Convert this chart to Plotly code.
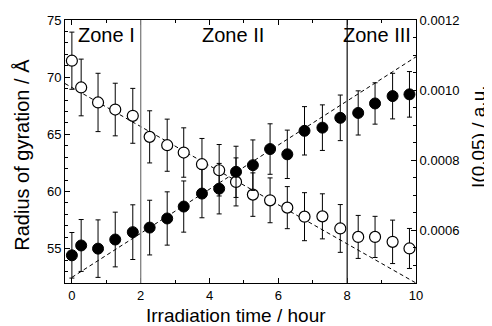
import plotly.graph_objects as go
import numpy as np

# ---- data ----
time_h = [0, 0.27, 0.76, 1.26, 1.77, 2.26, 2.77, 3.25, 3.78, 4.28, 4.77,
          5.26, 5.76, 6.26, 6.76, 7.28, 7.8, 8.32, 8.81, 9.32, 9.81]

rg = [71.44, 69.1, 67.79, 67.17, 66.62, 64.78, 64.05, 63.41, 62.39, 61.86, 60.84,
      59.73, 59.23, 58.59, 57.8, 57.83, 56.77, 56.03, 56.03, 55.6, 55.02]
rg_err = [2.5, 2.48, 2.55, 2.3, 2.4, 2.28, 2.28, 2.16, 2.25, 2.25, 2.1,
          1.9, 1.96, 1.84, 2.1, 1.97, 2.09, 1.88, 1.8, 1.9, 1.75]

i005 = [0.000529, 0.000557, 0.000548, 0.000574, 0.000595, 0.000608, 0.000634,
        0.000668, 0.000705, 0.000719, 0.000767, 0.000786, 0.000832, 0.000817,
        0.000884, 0.000893, 0.000921, 0.000935, 0.000962, 0.000983, 0.000988]
i005_err = [6.5e-5, 7.4e-5, 8.2e-5, 7.8e-5, 7.8e-5, 7.8e-5, 7.6e-5, 7.3e-5,
            6.9e-5, 7.2e-5, 7.3e-5, 7.2e-5, 7.2e-5, 6.9e-5, 6.9e-5, 6.5e-5,
            6.5e-5, 6.3e-5, 5.9e-5, 6.5e-5, 6.5e-5]

# linear guide lines: (intercept, slope, x_start, x_end)
rg_fit = (69.1, -1.71, -0.2, 10.0)
i_fit = (0.000466, 6.29e-5, 0.0, 10.0)

zone_bounds = [2, 8]
zone_labels = ["Zone I", "Zone II", "Zone III"]
zone_label_x = [0.12, 4.69, 9.92]

x_title = "Irradiation time / hour"
y_title = "Radius of gyration / Å"
y2_title = "I(0.05) / a.u."

FONT = "Liberation Sans, Arial, sans-serif"

fig = go.Figure()

# guide lines
fx = np.array([rg_fit[2], rg_fit[3]])
fig.add_trace(go.Scatter(x=fx, y=rg_fit[0] + rg_fit[1] * fx, mode="lines",
                         line=dict(color="black", width=1, dash="4px,3px"),
                         hoverinfo="skip"))
fx2 = np.array([i_fit[2], i_fit[3]])
fig.add_trace(go.Scatter(x=fx2, y=i_fit[0] + i_fit[1] * fx2, mode="lines", yaxis="y2",
                         line=dict(color="black", width=1, dash="4px,3px"),
                         hoverinfo="skip"))

# open circles: radius of gyration
fig.add_trace(go.Scatter(
    x=time_h, y=rg, mode="markers",
    marker=dict(symbol="circle", size=11, color="white",
                line=dict(color="black", width=1.2)),
    error_y=dict(type="data", array=rg_err, color="black", thickness=1, width=2.5),
))

# filled circles: I(0.05)
fig.add_trace(go.Scatter(
    x=time_h, y=i005, mode="markers", yaxis="y2",
    marker=dict(symbol="circle", size=11, color="black",
                line=dict(color="black", width=1)),
    error_y=dict(type="data", array=i005_err, color="black", thickness=1, width=2.5),
))

# zone boundaries
for xb, col in zip(zone_bounds, ["#808080", "#202020"]):
    fig.add_shape(type="line", xref="x", yref="paper", x0=xb, x1=xb, y0=0, y1=1,
                  line=dict(color=col, width=1.3))

anchors = ["left", "center", "right"]
for lab, xl, an in zip(zone_labels, zone_label_x, anchors):
    fig.add_annotation(text=lab, x=xl, xref="x", y=0.943, yref="paper",
                       xanchor=an, yanchor="middle", showarrow=False,
                       font=dict(family=FONT, size=20, color="black"))

# axis titles (placed as annotations for exact positioning)
fig.add_annotation(text=x_title, x=0.487, y=-0.122, xref="paper", yref="paper",
                   xanchor="center", yanchor="middle", showarrow=False,
                   font=dict(family=FONT, size=19, color="black"))
fig.add_annotation(text=y_title, x=-0.123, y=0.487, xref="paper", yref="paper",
                   xanchor="center", yanchor="middle", showarrow=False, textangle=-90,
                   font=dict(family=FONT, size=20, color="black"))
fig.add_annotation(text=y2_title, x=1.18, y=0.556, xref="paper", yref="paper",
                   xanchor="center", yanchor="middle", showarrow=False, textangle=-90,
                   font=dict(family=FONT, size=19, color="black"))

fig.update_layout(
    width=484, height=318,
    margin=dict(l=57, r=76, t=12, b=43),
    plot_bgcolor="white", paper_bgcolor="white",
    showlegend=False,
    font=dict(family=FONT, size=13, color="black"),
    xaxis=dict(range=[-0.2, 10], dtick=2, tick0=0, ticks="inside", ticklen=5,
               tickcolor="black", showline=True, linecolor="black", linewidth=1,
               mirror="ticks", showgrid=False, zeroline=False, automargin=False,
               minor=dict(dtick=1, ticks="inside", ticklen=3, tickcolor="black"),
               tickfont=dict(size=13)),
    yaxis=dict(range=[52, 75], dtick=5, tick0=0, ticks="inside", ticklen=5,
               tickcolor="black", showline=True, linecolor="black", linewidth=1,
               showgrid=False, zeroline=False, automargin=False,
               minor=dict(dtick=1, ticks="inside", ticklen=3, tickcolor="black"),
               tickfont=dict(size=13)),
    yaxis2=dict(range=[0.00045, 0.0012], overlaying="y", side="right",
                tick0=0.0006, dtick=0.0002, tickformat=".4f",
                ticks="inside", ticklen=5, tickcolor="black",
                showline=True, linecolor="black", linewidth=1,
                showgrid=False, zeroline=False, automargin=False,
                minor=dict(dtick=0.00005, ticks="inside", ticklen=3, tickcolor="black"),
                tickfont=dict(size=13)),
)

fig.write_html("out.html")
